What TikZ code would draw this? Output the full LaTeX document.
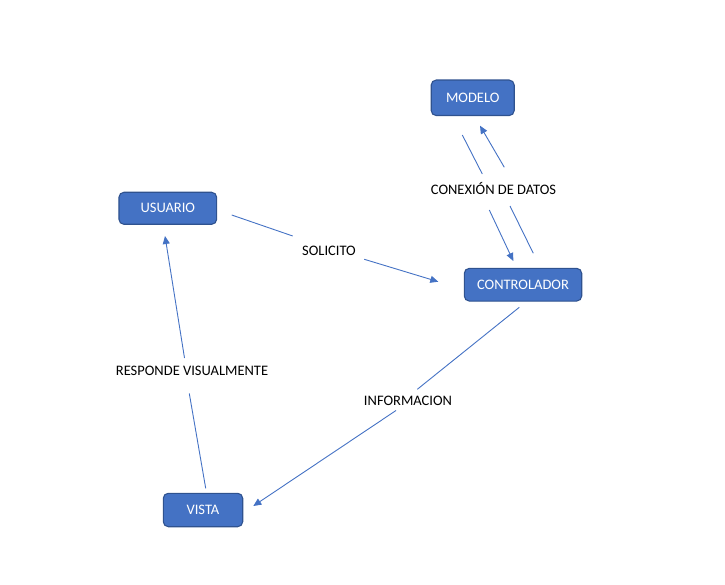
\documentclass[tikz,border=0pt]{standalone}
\usepackage{fontspec}
\setmainfont{Carlito}
\usetikzlibrary{arrows.meta}
\definecolor{boxfill}{HTML}{4472C4}
\definecolor{boxline}{HTML}{2F528F}
\definecolor{conn}{HTML}{4472C4}
\begin{document}
\begin{tikzpicture}[x=1pt,y=-1pt,
  box/.style={draw=boxline,line width=1.1pt,fill=boxfill,rounded corners=5pt,
    text=white,font=\fontsize{14.5}{16}\selectfont,inner sep=0pt,
    text height=9.3pt,text depth=0pt},
  lbl/.style={font=\fontsize{14.5}{16}\selectfont,inner sep=0pt,
    text height=9.3pt,text depth=0pt},
  conline/.style={draw=conn,line width=0.9pt},
  conarrow/.style={conline,-{Triangle[length=8pt,width=7pt]}}]
\useasboundingbox (0,0) rectangle (725,585);
% nodes
\node[box,minimum width=83pt,minimum height=35.5pt] (modelo) at (472.7,97.8) {MODELO};
\node[box,minimum width=97.7pt,minimum height=32pt] (usuario) at (167.8,208.3) {USUARIO};
\node[box,minimum width=117.4pt,minimum height=32.7pt] (controlador) at (523,284.7) {CONTROLADOR};
\node[box,minimum width=79.4pt,minimum height=33.4pt] (vista) at (203,510) {VISTA};
% labels
\node[lbl] (lsol) at (329,251) {SOLICITO};
\node[lbl] (lcon) at (493.5,190) {CONEXIÓN DE DATOS};
\node[lbl] (lres) at (192,371) {RESPONDE VISUALMENTE};
\node[lbl] (linf) at (408,400.7) {INFORMACION};
% connector end points
\coordinate (s1) at (231.7,215);
\coordinate (s2) at (292.7,236);
\coordinate (s3) at (364.3,259.3);
\coordinate (s4) at (438.3,281.7);
\coordinate (a1) at (462.3,135);
\coordinate (a2) at (482.3,174);
\coordinate (a3) at (489.3,210);
\coordinate (a4) at (513.3,261);
\coordinate (b1) at (533.3,253.3);
\coordinate (b2) at (510,206);
\coordinate (b3) at (504.3,167.3);
\coordinate (b4) at (480,125.7);
\coordinate (i1) at (519.3,307.3);
\coordinate (i2) at (417.3,389.3);
\coordinate (i3) at (396,410.5);
\coordinate (i4) at (253.3,506);
\coordinate (r1) at (205.7,488.3);
\coordinate (r2) at (189.3,393.5);
\coordinate (r3) at (184.5,358);
\coordinate (r4) at (165,236);
% connectors
\draw[conarrow] (s1) -- (s2) (s3) -- (s4);
\draw[conarrow] (a1) -- (a2) (a3) -- (a4);
\draw[conarrow] (b1) -- (b2) (b3) -- (b4);
\draw[conarrow] (i1) -- (i2) (i3) -- (i4);
\draw[conarrow] (r1) -- (r2) (r3) -- (r4);
\end{tikzpicture}
\end{document}
